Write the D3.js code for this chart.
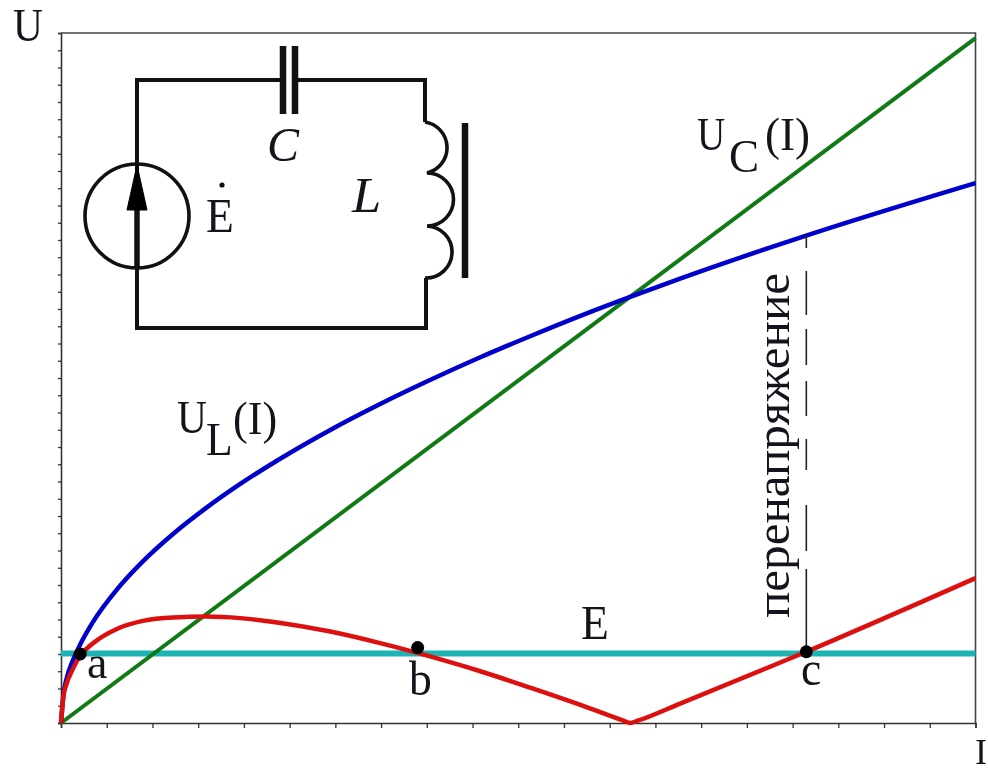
<!DOCTYPE html>
<html>
<head>
<meta charset="utf-8">
<script src="https://cdnjs.cloudflare.com/ajax/libs/d3/7.8.5/d3.min.js"></script>
<style>
  html, body { margin: 0; padding: 0; background: #fff; overflow: hidden; }
  svg { display: block; filter: blur(0.4px); }
  text { font-family: "Liberation Serif", serif; fill: #14141c; }
</style>
</head>
<body>
<div id="chart"></div>
<script>
// x = ticks along I, y = ticks along U
const inductorI = [0, 0.05, 0.125, 0.24, 0.34, 0.42, 0.7, 1.22, 1.79, 2.45, 3.19, 3.92, 4.73, 5.89, 6.98, 8.07, 9.17, 10.26, 11.36, 12.39, 13.54, 16.28, 20];
const inductorU = [0, 1.57, 2.6, 3.5, 4.1, 4.55, 5.86, 7.73, 9.37, 10.96, 12.5, 13.86, 15.22, 16.99, 18.49, 19.88, 21.2, 22.42, 23.6, 24.64, 25.76, 28.24, 31.3];

const capacitorI = [0, 20];
const capacitorU = [0, 39.7];

const sumI = [0, 0.05, 0.125, 0.24, 0.34, 0.42, 0.7, 1.22, 1.79, 2.45, 3.19, 3.92, 4.73, 5.89, 6.98, 8.07, 9.17, 10.26, 11.36, 12.3, 12.45, 12.6, 13.54, 16.3, 20];
const sumU = [0, 1.47, 2.3, 3.02, 3.55, 3.9, 4.62, 5.45, 5.92, 6.12, 6.17, 6.08, 5.83, 5.3, 4.63, 3.86, 3.0, 2.05, 1.05, 0.14, 0, 0.12, 1.12, 4.13, 8.4];

const sourceE = 4.03;

const pointNames = ['a', 'b', 'c'];
const pointI = [0.42, 7.8, 16.3];
const pointU = [4.0, 4.37, 4.13];

const overvoltageTopU = 28.29;

const width = 988;
const height = 772;
const margin = {top: 33, right: 12.5, bottom: 49, left: 61};

const svg = d3.select('#chart')
  .append('svg')
    .attr('width', width)
    .attr('height', height);

const xScale = d3.scaleLinear()
  .domain([0, 20])
  .range([margin.left, width - margin.right]);
const yScale = d3.scaleLinear()
  .domain([0, 40])
  .range([height - margin.bottom, margin.top]);

// axes, no tick labels
const xAxis = svg.append('g')
  .attr('transform', `translate(0, ${height - margin.bottom})`)
  .call(d3.axisBottom(xScale).ticks(20).tickSize(5).tickFormat(''));
const yAxis = svg.append('g')
  .attr('transform', `translate(${margin.left}, 0)`)
  .call(d3.axisLeft(yScale).ticks(40).tickSize(3).tickFormat(''));
svg.selectAll('.domain').attr('stroke', '#333').attr('stroke-width', 1.6);
svg.selectAll('.tick line').attr('stroke', '#333').attr('stroke-width', 1.3);

// top and right of the frame
svg.append('path')
  .attr('d', d3.line()([[xScale(0), yScale(40)], [xScale(20), yScale(40)], [xScale(20), yScale(0)]]))
  .attr('fill', 'none')
  .attr('stroke', '#444')
  .attr('stroke-width', 1.6);

const line = d3.line()
  .x(d => xScale(d[0]))
  .y(d => yScale(d[1]))
  .curve(d3.curveMonotoneX);

// E
svg.append('line')
  .attr('x1', xScale(0))
  .attr('x2', xScale(20))
  .attr('y1', yScale(sourceE))
  .attr('y2', yScale(sourceE))
  .attr('stroke', '#1fb4b4')
  .attr('stroke-width', 6);

svg.append('path')
  .attr('d', line(d3.zip(capacitorI, capacitorU)))
  .attr('fill', 'none')
  .attr('stroke', '#107a14')
  .attr('stroke-width', 4);
svg.append('path')
  .attr('d', line(d3.zip(inductorI, inductorU)))
  .attr('fill', 'none')
  .attr('stroke', '#0000cc')
  .attr('stroke-width', 4.5);
svg.append('path')
  .attr('d', line(d3.zip(sumI, sumU)))
  .attr('fill', 'none')
  .attr('stroke', '#dd1010')
  .attr('stroke-width', 4.5);

// overvoltage marker, dashes are uneven in the original
svg.append('line')
  .attr('x1', xScale(pointI[2]))
  .attr('x2', xScale(pointI[2]))
  .attr('y1', yScale(overvoltageTopU))
  .attr('y2', yScale(pointU[2]))
  .attr('stroke', '#222')
  .attr('stroke-width', 1.6)
  .attr('stroke-dasharray', '13 23 44 14 36 16 35 23 31 35 46 18 80');

svg.append('g')
  .selectAll('circle')
  .data(d3.zip(pointI, pointU))
  .join('circle')
    .attr('cx', d => xScale(d[0]))
    .attr('cy', d => yScale(d[1]))
    .attr('r', 6.5)
    .attr('fill', '#000');

// circuit inset
const circuit = svg.append('g')
  .attr('fill', 'none')
  .attr('stroke', '#111');
circuit.append('path')
  .attr('d', 'M283,80 H137 V328 H426 V278 M298,80 H425 V122')
  .attr('stroke-width', 4);
circuit.append('path')
  .attr('d', 'M283,46 V114 M295,46 V114 M465,123 V278')
  .attr('stroke-width', 6.5);
circuit.append('path')
  .attr('d', 'M425,122 A26,26 0 0 1 427,173 A26,26 0 0 1 427,226 A26,26 0 0 1 425,278')
  .attr('stroke-width', 3.6);
circuit.append('circle')
  .attr('cx', 137).attr('cy', 216).attr('r', 52)
  .attr('stroke-width', 3.6);
circuit.append('path')
  .attr('d', 'M137,210 V268')
  .attr('stroke-width', 5.5);
circuit.append('path')
  .attr('d', 'M137,165 L147,210 H127 Z')
  .attr('fill', '#000')
  .attr('stroke', '#000')
  .attr('stroke-width', 1);
circuit.append('circle')
  .attr('cx', 222).attr('cy', 185).attr('r', 2.6)
  .attr('fill', '#111')
  .attr('stroke', 'none');

// text, the original is squeezed sideways so sx narrows the glyphs
const labels = [
  {t: 'U', x: 13, y: 41, s: 46, sx: 0.9},
  {t: 'I', x: 975, y: 764, s: 36, sx: 1},
  {t: 'U', x: 177, y: 433, s: 46, sx: 0.9},
  {t: 'L', x: 206, y: 455, s: 46, sx: 0.95},
  {t: '(I)', x: 233, y: 434, s: 46, sx: 0.96},
  {t: 'U', x: 697, y: 150, s: 46, sx: 0.85},
  {t: 'C', x: 729, y: 172, s: 46, sx: 0.98},
  {t: '(I)', x: 765, y: 150, s: 46, sx: 0.98},
  {t: 'E', x: 581, y: 639, s: 48, sx: 0.95},
  {t: 'E', x: 206, y: 232, s: 48, sx: 0.95},
  {t: 'C', x: 267, y: 161, s: 48, sx: 1, i: true},
  {t: 'L', x: 352, y: 212, s: 50, sx: 1.05, i: true},
  {t: pointNames[0], x: 87, y: 678, s: 46, sx: 1},
  {t: pointNames[1], x: 409, y: 695, s: 48, sx: 0.95},
  {t: pointNames[2], x: 801, y: 685, s: 48, sx: 0.95}
];
svg.append('g')
  .selectAll('text')
  .data(labels)
  .join('text')
    .attr('transform', d => `translate(${d.x}, ${d.y}) scale(${d.sx}, 1)`)
    .attr('font-size', d => d.s)
    .attr('font-style', d => d.i ? 'italic' : 'normal')
    .text(d => d.t);

svg.append('text')
  .attr('transform', 'translate(789, 618) rotate(-90)')
  .attr('font-size', 48)
  .attr('textLength', 345)
  .attr('lengthAdjust', 'spacingAndGlyphs')
  .text('перенапряжение');
</script>
</body>
</html>
